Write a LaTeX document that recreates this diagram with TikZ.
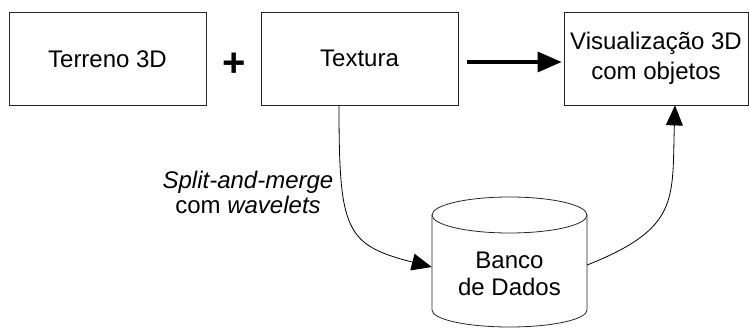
\documentclass[tikz,border=0pt]{standalone}
\usepackage{fontspec}
\setmainfont{Liberation Sans}
\usetikzlibrary{arrows.meta}
\begin{document}
\begin{tikzpicture}[x=1pt,y=-1pt,
  box/.style={draw=black!85, line width=0.8pt, inner sep=0pt, minimum width=197pt, minimum height=92.5pt, font=\fontsize{24}{30}\selectfont, align=center},
  cyl/.style={draw=black!85, line width=0.8pt},
  conn/.style={line width=0.8pt, -{Triangle[length=20pt,width=17pt]}},
  thick arrow/.style={line width=3.3pt, -{Triangle[length=24pt,width=20pt]}},
  txt/.style={align=center, inner sep=0pt}
]
\useasboundingbox (0,0) rectangle (749,328);
\node[box] (ter) at (107.5,58.75) {Terreno 3D};
\node[box] (tex) at (359.5,58.75) {Textura};
\node[box, minimum width=184pt] (vis) at (656,58.75) {Visualização 3D\\com objetos};
\node[txt, font=\fontsize{40}{40}\selectfont\bfseries] (plus) at (234,64.5) {+};
% database cylinder
\node[minimum width=155pt, minimum height=130pt, inner sep=0pt] (db) at (509.5,262) {};
\draw[cyl] (432,215) -- (432,310) arc[start angle=180, end angle=360, x radius=77.5pt, y radius=17pt] -- (587,215);
\draw[cyl] (509.5,215) ellipse [x radius=77.5pt, y radius=18pt];
\node[txt, font=\fontsize{24}{27}\selectfont] (dbt) at (509.5,274) {Banco\\de Dados};
% label
\node[txt, font=\fontsize{24}{25}\selectfont] (lab) at (248,192) {\textit{Split-and-merge}\\com \textit{wavelets}};
% connectors
\draw[thick arrow, shorten <=9pt, shorten >=2pt] ([yshift=-3.25pt]tex.east) -- ([yshift=-3.25pt]vis.west);
\draw[conn] ([xshift=-20.5pt]tex.south) .. controls (339,230) and (345,245) .. ([yshift=-5pt]db.west);
\draw[conn] ([yshift=-3pt]db.east) .. controls (680,228) and (672,200) .. ([xshift=19pt]vis.south);
\end{tikzpicture}
\end{document}
